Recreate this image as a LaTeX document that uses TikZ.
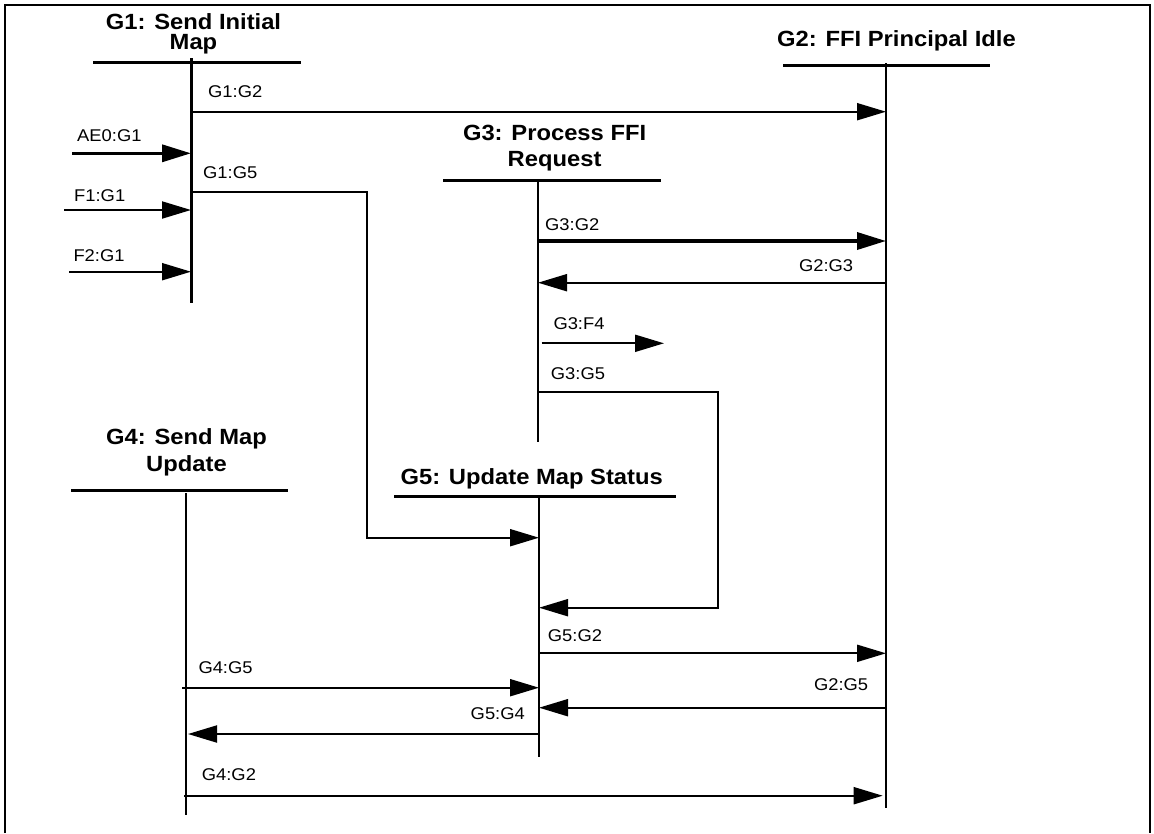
\documentclass[tikz,border=0pt]{standalone}
\usepackage{fontspec}
\setmainfont{Liberation Sans}[FakeStretch=1.08]
\usetikzlibrary{arrows.meta}

\begin{document}
\begin{tikzpicture}[x=1pt,y=-1pt]

% ---------------------------------------------------------------- styles
\tikzset{
  title/.style = {font=\fontsize{22}{26}\selectfont\bfseries, align=center,
                  inner sep=0pt},
  msg/.style   = {font=\fontsize{17}{20}\selectfont, inner sep=0pt},
  head/.style  = {line width=3pt},
  life/.style  = {line width=2pt},
  arr/.style   = {line width=2pt, -{Triangle[length=29pt,width=17pt]}},
  fat/.style   = {arr, line width=3.5pt},
}

\useasboundingbox (0,0) rectangle (1154,833);

% ---------------------------------------------------------------- frame
\draw[line width=2pt] (5,833) -- (5,5) -- (1150,5) -- (1150,833);

% ================================================================ titles
\node[title, anchor=north, font=\fontsize{22}{19.5}\selectfont\bfseries]
  (g1) at (193.5,13.5) {G1: Send Initial\\Map};
\node[title, anchor=base] (g2) at (896.5,46.7) {G2: FFI Principal Idle};
\node[title, anchor=north, font=\fontsize{22}{25.7}\selectfont\bfseries]
  (g3) at (554.6,125) {G3: Process FFI\\Request};
\node[title, anchor=north, font=\fontsize{22}{27}\selectfont\bfseries]
  (g4) at (186.5,428) {G4: Send Map\\Update};
\node[title, anchor=base] (g5) at (531.7,484) {G5: Update Map Status};

% ---------------------------------------------------------- header lines
\draw[head] (93,62)    -- (301,62);
\draw[head] (783,65)   -- (990,65);
\draw[head] (443,180.3) -- (661,180.3);
\draw[head] (71,490.3) -- (288,490.3);
\draw[head] (394,496.7) -- (676,496.7);

% ------------------------------------------------------------- lifelines
\coordinate (l1) at (191,58);
\coordinate (l2) at (886,63);
\coordinate (l3) at (538,180);
\coordinate (l4) at (185.7,493);
\coordinate (l5) at (539,497);

\draw[life, line width=3pt] (l1) -- (l1 |- 0,303);
\draw[life] (l2) -- (l2 |- 0,808);
\draw[life] (l3) -- (l3 |- 0,442);
\draw[life] (l4) -- (l4 |- 0,815);
\draw[life] (l5) -- (l5 |- 0,757);

% ============================================================== messages
% into and out of G1
\draw[arr] (l1 |- 0,111.7) -- (l2 |- 0,111.7);
\node[msg, anchor=base west] (m12) at (208,97.3) {G1:G2};
\draw[fat] (72,153.3) -- (l1 |- 0,153.3);
\node[msg, anchor=base west] (ae0) at (77,141) {AE0:G1};
\draw[arr] (l1 |- 0,191.7) -- (366.7,191.7) -- (366.7,537.7) -- (l5 |- 0,537.7);
\node[msg, anchor=base west] (m15) at (203,178.3) {G1:G5};
\draw[arr] (64,210) -- (l1 |- 0,210);
\node[msg, anchor=base west] (f1) at (74,201.7) {F1:G1};
\draw[arr] (69,271.7) -- (l1 |- 0,271.7);
\node[msg, anchor=base west] (f2) at (73.3,261) {F2:G1};

% G3 and G2
\draw[fat] (l3 |- 0,241) -- (l2 |- 0,241);
\node[msg, anchor=base west] (m32) at (545,230) {G3:G2};
\draw[arr] (l2 |- 0,282.7) -- (l3 |- 0,282.7);
\node[msg, anchor=base east] (m23) at (853.3,271.7) {G2:G3};
\draw[arr] (541.7,343.3) -- (664,343.3);
\node[msg, anchor=base west] (m34) at (553.3,329.3) {G3:F4};
\draw[arr] (l3 |- 0,391.7) -- (718.3,391.7) -- (718.3,607.7) -- (l5 |- 0,607.7);
\node[msg, anchor=base west] (m35) at (550.7,379.3) {G3:G5};

% G5, G4 and G2
\draw[arr] (l5 |- 0,653.3) -- (l2 |- 0,653.3);
\node[msg, anchor=base west] (m52) at (547.7,641.7) {G5:G2};
\draw[arr] (182,687.7) -- (l5 |- 0,687.7);
\node[msg, anchor=base west] (m45) at (198.3,673.3) {G4:G5};
\draw[arr] (l2 |- 0,707.7) -- (l5 |- 0,707.7);
\node[msg, anchor=base east] (m25) at (868.3,690.7) {G2:G5};
\draw[arr] (l5 |- 0,734) -- (188,734);
\node[msg, anchor=base east] (m54) at (525,719) {G5:G4};
\draw[arr] (184.3,795.7) -- (882.7,795.7);
\node[msg, anchor=base west] (m42) at (201.7,780) {G4:G2};

\end{tikzpicture}
\end{document}
